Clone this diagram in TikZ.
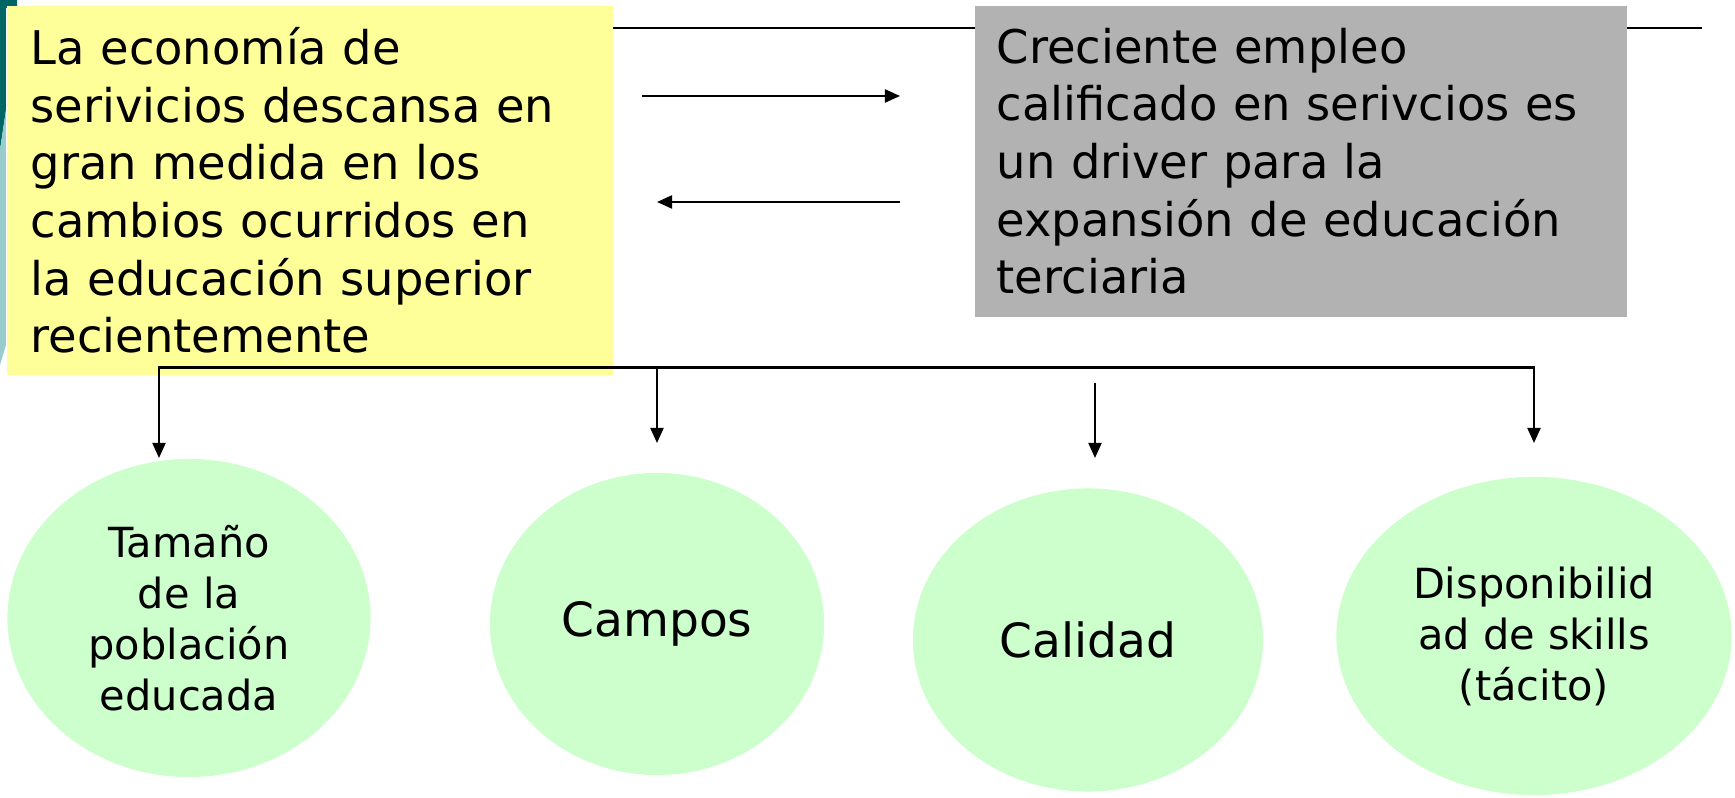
\documentclass[tikz,border=0pt]{standalone}
\usepackage{fontspec}
\setmainfont{DejaVu Sans}
\usetikzlibrary{arrows.meta,shapes.geometric}
\definecolor{boxyellow}{HTML}{FFFF99}
\definecolor{boxgray}{HTML}{B2B2B2}
\definecolor{ellgreen}{HTML}{CCFFCC}
\definecolor{tealdark}{HTML}{006666}
\definecolor{teallight}{HTML}{99CCCC}
\begin{document}
\begin{tikzpicture}[x=0.01cm,y=-0.01cm,
  tip/.tip={Triangle[length=0.15cm,width=0.13cm]},
  conn/.style={line width=0.6pt,-tip},
  plain/.style={line width=0.6pt},
  bigtext/.style={font=\fontsize{13.2pt}{16.4pt}\selectfont},
  textbox/.style={anchor=north west, inner ysep=0pt, align=left, bigtext},
  oval/.style={ellipse, fill=ellgreen, inner sep=0pt, align=center, font=\fontsize{11.8pt}{14.5pt}\selectfont},
  ovalbig/.style={oval, font=\fontsize{13.4pt}{16pt}\selectfont}]
\useasboundingbox (0,0) rectangle (1735,798);
% slide decoration at the left edge
\fill[tealdark] (0,0) -- (17,0) -- (17,8) -- (6,8) -- (6,110) -- (0,150) -- cycle;
\fill[teallight] (0,150) -- (6,110) -- (6,345) -- (0,365) -- cycle;
% top line behind the boxes
\coordinate (tl) at (600,28);
\coordinate (tr) at (1702,28);
\draw[plain] (tl) -- (tr);
% boxes
\node[textbox, fill=boxyellow, minimum width=6.06cm, minimum height=3.69cm,
      text width=5.58cm, inner xsep=0.24cm] (econ) at (6,5)
  {\mbox{La economía de}\\ \mbox{serivicios descansa en}\\ \mbox{gran medida en los}\\
   \mbox{cambios ocurridos en}\\ \mbox{la educación superior}\\ \mbox{recientemente}};
\node[textbox, fill=boxgray, minimum width=6.52cm, minimum height=3.11cm,
      text width=6.08cm, inner xsep=0.22cm] (empleo) at (974,5)
  {\mbox{Creciente empleo}\\ \mbox{calificado en serivcios es}\\ \mbox{un driver para la}\\
   \mbox{expansión de educación}\\ \mbox{terciaria}};
% two arrows between the boxes
\coordinate (r1) at (642,96);
\coordinate (r2) at (900,96);
\draw[conn] (r1) -- (r2);
\coordinate (l1) at (900,202);
\coordinate (l2) at (657,202);
\draw[conn] (l1) -- (l2);
% ellipses
\node[oval, minimum width=3.63cm, minimum height=3.18cm] (e1) at (189,618)
  {Tamaño\\ de la\\ población\\ educada};
\node[ovalbig, minimum width=3.34cm, minimum height=3.02cm] (e2) at (657,624) {Campos};
\node[ovalbig, minimum width=3.50cm, minimum height=3.03cm] (e3) at (1088,640) {Calidad};
\node[oval, minimum width=3.95cm, minimum height=3.18cm] (e4) at (1534,636)
  {Disponibilid\\ ad de skills\\ (tácito)};
% bracket with arrows down
\coordinate (b1) at (159,367.5);
\coordinate (b2) at (657,367.5);
\coordinate (b4) at (1534,367.5);
\coordinate (a1) at (159,458);
\coordinate (a2) at (657,443);
\coordinate (a4) at (1534,443);
\coordinate (b3) at (1095,383);
\coordinate (a3) at (1095,458);
\draw[plain, tip-tip] (a1) -- (b1) -- (b4) -- (a4);
\draw[conn] (b2) -- (a2);
\draw[conn] (b3) -- (a3);
\end{tikzpicture}
\end{document}
